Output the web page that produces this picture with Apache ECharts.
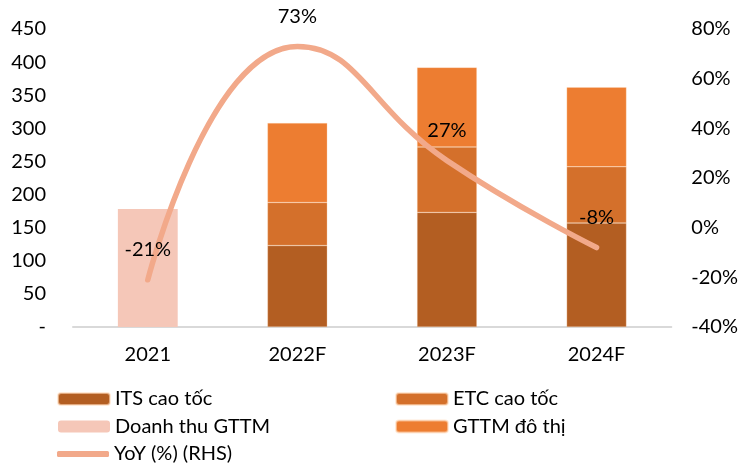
<!DOCTYPE html>
<html>
<head>
<meta charset="utf-8">
<script src="https://cdn.jsdelivr.net/npm/echarts@6/dist/echarts.min.js"></script>
<style>html,body{margin:0;padding:0;background:#fff}#c{width:741px;height:466px}</style>
</head>
<body>
<div id="c"></div>
<script>
var categories = ['2021', '2022F', '2023F', '2024F'];
var itsCaoToc = ['-', 123, 173, 157];
var etcCaoToc = ['-', 65, 99, 85];
var gttmDoThi = ['-', 120, 120, 120];
var doanhThuGTTM = [178, '-', '-', '-'];
var yoy = [-21, 73, 27, -8];
var leftTicks = { min: 0, max: 450, interval: 50 };
var rightTicks = { min: -40, max: 80, interval: 20 };

var FONT = 'Lato';
var FS = 20;
var chart = echarts.init(document.getElementById('c'), null, { renderer: 'canvas' });
var legendText = { fontFamily: FONT, fontSize: FS, lineHeight: 20, color: '#000', padding: [0, 0, 0, 0] };
chart.setOption({
  animation: false,
  textStyle: { fontFamily: FONT },
  grid: { left: 73, right: 69, top: 29, bottom: 139 },
  legend: [
    { left: 52, top: 384, orient: 'vertical', itemWidth: 52, itemHeight: 12, itemGap: 7.5,
      textStyle: legendText, data: ['ITS cao tốc', 'Doanh thu GTTM'] },
    { left: 52, top: 439, orient: 'vertical', itemWidth: 52, itemHeight: 6,
      textStyle: legendText,
      data: [{ name: 'YoY (%) (RHS)', icon: 'roundRect', itemStyle: { color: '#F2A98A', opacity: 1 } }] },
    { left: 390, top: 384, orient: 'vertical', itemWidth: 52, itemHeight: 12, itemGap: 7.5,
      textStyle: legendText, data: ['ETC cao tốc', 'GTTM đô thị'] }
  ],
  xAxis: {
    type: 'category', data: categories,
    axisLine: { lineStyle: { color: '#d9d9d9', width: 2 } },
    axisTick: { show: false },
    axisLabel: { fontFamily: FONT, fontSize: FS, color: '#000', margin: 18 }
  },
  yAxis: [
    { type: 'value', min: leftTicks.min, max: leftTicks.max, interval: leftTicks.interval,
      splitLine: { show: false }, axisLine: { show: false }, axisTick: { show: false },
      axisLabel: { fontFamily: FONT, fontSize: FS, color: '#000', margin: 27,
        formatter: function (v) { return v === 0 ? '-' : String(v); } } },
    { type: 'value', min: rightTicks.min, max: rightTicks.max, interval: rightTicks.interval,
      splitLine: { show: false }, axisLine: { show: false }, axisTick: { show: false },
      axisLabel: { fontFamily: FONT, fontSize: FS, color: '#000', margin: 20,
        formatter: function (v) { return v + '%'; } } }
  ],
  series: [
    { name: 'ITS cao tốc', type: 'bar', stack: 's', barWidth: '40%', data: itsCaoToc,
      itemStyle: { color: '#B35E22', borderColor: 'rgba(255,220,190,0.6)', borderWidth: 0.5 } },
    { name: 'ETC cao tốc', type: 'bar', stack: 's', data: etcCaoToc,
      itemStyle: { color: '#D4702B', borderColor: 'rgba(255,220,190,0.6)', borderWidth: 0.5 } },
    { name: 'GTTM đô thị', type: 'bar', stack: 's', data: gttmDoThi,
      itemStyle: { color: '#ED7D31', borderColor: 'rgba(255,220,190,0.6)', borderWidth: 0.5 } },
    { name: 'Doanh thu GTTM', type: 'bar', stack: 's', data: doanhThuGTTM,
      itemStyle: { color: '#F5C7B8' } },
    { name: 'YoY (%) (RHS)', type: 'line', yAxisIndex: 1, data: yoy, smooth: 0.5,
      symbol: 'circle', symbolSize: 0.01, showSymbol: true,
      lineStyle: { color: '#F2A98A', width: 5.5, cap: 'round' },
      itemStyle: { color: '#F2A98A' },
      label: { show: true, position: 'top', distance: 20, fontFamily: FONT, fontSize: FS, color: '#000',
        formatter: function (p) { return p.value + '%'; } },
      z: 5 }
  ]
});
</script>
</body>
</html>
